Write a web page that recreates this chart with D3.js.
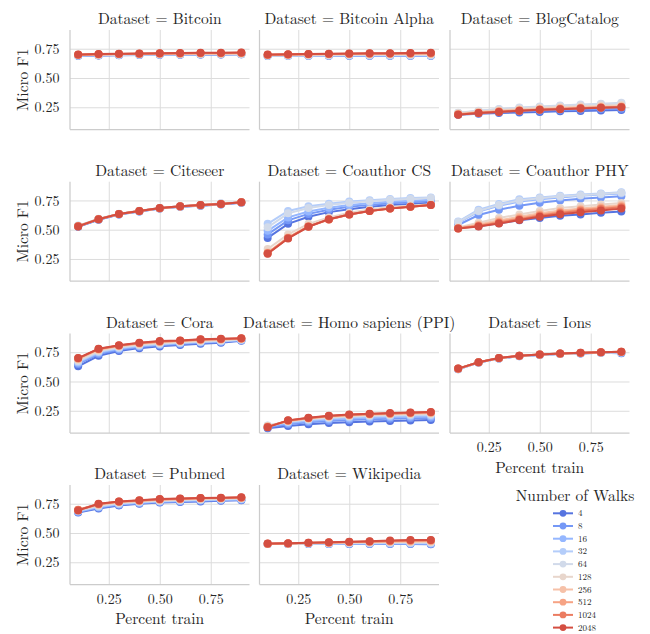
<!DOCTYPE html>
<html><head><meta charset="utf-8">
<script src="https://cdn.jsdelivr.net/npm/d3@7"></script>
<style>body{margin:0;background:#fff}svg{display:block}</style>
</head><body><svg id="c" width="650" height="634"></svg>
<script>
const percentTrain = [0.1,0.2,0.3,0.4,0.5,0.6,0.7,0.8,0.9];
const walks = [4,8,16,32,64,128,256,512,1024,2048];
const walkColors = ["#5674e0","#7598f6","#95b7ff","#b4cdfa","#d1daea","#e8d6cc","#f6c1a8","#f6a384","#eb7c61","#d44e41"];
const datasets = ["Bitcoin","Bitcoin Alpha","BlogCatalog","Citeseer","Coauthor CS","Coauthor PHY","Cora","Homo sapiens (PPI)","Ions","Pubmed","Wikipedia"];
const yTicks = [0.25,0.50,0.75];
const xTicks = [0.25,0.50,0.75];

const bitcoin = [
[.690,.693,.695,.697,.698,.699,.700,.701,.702],
[.691,.694,.696,.698,.699,.700,.701,.702,.703],
[.692,.695,.697,.699,.700,.701,.702,.703,.704],
[.693,.696,.698,.700,.701,.702,.703,.704,.705],
[.694,.697,.699,.701,.702,.703,.704,.705,.706],
[.696,.699,.702,.704,.705,.706,.707,.708,.709],
[.697,.701,.704,.706,.707,.708,.709,.710,.712],
[.698,.702,.705,.707,.709,.710,.711,.712,.714],
[.699,.703,.706,.708,.710,.711,.713,.714,.716],
[.700,.704,.708,.710,.712,.713,.715,.716,.718]];
const bitcoinAlpha = [
[.688,.689,.690,.690,.690,.690,.690,.690,.689],
[.689,.690,.691,.691,.691,.691,.691,.691,.690],
[.690,.691,.692,.692,.693,.693,.693,.693,.692],
[.691,.692,.693,.694,.694,.694,.694,.694,.694],
[.692,.693,.694,.695,.696,.696,.696,.696,.696],
[.694,.696,.698,.699,.701,.701,.702,.702,.703],
[.696,.698,.700,.702,.704,.704,.705,.705,.707],
[.697,.700,.702,.704,.706,.707,.708,.708,.710],
[.698,.701,.704,.706,.708,.709,.710,.711,.713],
[.700,.703,.706,.708,.710,.711,.712,.713,.715]];
const blogCatalog = [
[.185,.195,.200,.206,.210,.215,.219,.223,.227],
[.190,.202,.210,.217,.222,.227,.231,.235,.238],
[.195,.208,.218,.226,.233,.239,.244,.249,.253],
[.202,.218,.232,.243,.252,.261,.268,.275,.282],
[.203,.220,.235,.247,.257,.266,.274,.281,.288],
[.198,.213,.225,.236,.245,.252,.259,.265,.270],
[.193,.207,.218,.228,.236,.243,.249,.254,.259],
[.190,.203,.214,.223,.231,.238,.244,.249,.254],
[.188,.201,.211,.221,.229,.236,.242,.247,.252],
[.187,.200,.210,.220,.228,.234,.240,.245,.250]];
const citeseer = [
[.525,.585,.630,.655,.680,.695,.705,.715,.730],
[.527,.587,.632,.657,.682,.697,.707,.717,.732],
[.530,.590,.633,.658,.683,.698,.708,.720,.733],
[.533,.592,.635,.660,.685,.700,.710,.724,.735],
[.535,.593,.636,.661,.686,.701,.711,.725,.736],
[.532,.592,.635,.660,.685,.700,.710,.722,.735],
[.530,.591,.634,.659,.684,.699,.709,.720,.734],
[.529,.590,.634,.659,.684,.699,.709,.719,.734],
[.529,.590,.634,.659,.684,.700,.710,.719,.734],
[.528,.590,.635,.660,.685,.700,.711,.720,.735]];
const coauthorCS = [
[.430,.550,.610,.650,.675,.695,.710,.720,.730],
[.460,.580,.635,.670,.695,.712,.725,.735,.745],
[.490,.605,.655,.688,.710,.726,.738,.748,.756],
[.550,.660,.700,.722,.740,.752,.762,.770,.776],
[.520,.640,.685,.710,.730,.744,.755,.763,.770],
[.335,.460,.550,.605,.645,.672,.693,.705,.718],
[.305,.435,.530,.590,.632,.662,.684,.698,.712],
[.300,.430,.528,.588,.630,.660,.682,.696,.710],
[.298,.428,.527,.587,.630,.660,.682,.696,.710],
[.295,.425,.525,.590,.630,.660,.680,.695,.710]];
const coauthorPHY = [
[.520,.530,.555,.580,.600,.620,.630,.645,.655],
[.540,.625,.670,.705,.730,.750,.765,.775,.785],
[.560,.655,.705,.740,.760,.775,.790,.800,.810],
[.570,.670,.720,.760,.775,.790,.800,.810,.820],
[.565,.660,.712,.750,.768,.783,.795,.805,.815],
[.520,.560,.600,.630,.660,.685,.700,.715,.728],
[.515,.545,.580,.610,.640,.664,.682,.697,.712],
[.512,.537,.568,.598,.628,.652,.670,.686,.701],
[.510,.531,.560,.590,.620,.643,.661,.677,.691],
[.510,.527,.552,.582,.610,.632,.650,.665,.680]];
const cora = [
[.630,.720,.760,.785,.800,.812,.822,.832,.848],
[.650,.735,.772,.795,.810,.820,.830,.838,.852],
[.660,.745,.780,.802,.816,.826,.835,.842,.855],
[.668,.752,.786,.808,.821,.830,.839,.846,.857],
[.675,.758,.791,.812,.825,.834,.842,.849,.859],
[.685,.765,.798,.818,.832,.840,.848,.855,.862],
[.692,.772,.803,.823,.837,.845,.853,.859,.865],
[.696,.776,.806,.826,.840,.847,.856,.861,.867],
[.698,.778,.808,.828,.842,.849,.858,.863,.868],
[.700,.780,.810,.830,.845,.850,.860,.865,.870]];
const homoSapiens = [
[.100,.120,.135,.145,.152,.158,.163,.167,.170],
[.108,.135,.152,.163,.171,.177,.182,.186,.189],
[.115,.145,.163,.175,.184,.190,.195,.199,.202],
[.122,.153,.172,.185,.194,.200,.205,.209,.212],
[.125,.158,.178,.191,.200,.207,.212,.216,.219],
[.120,.160,.182,.196,.206,.213,.218,.222,.226],
[.115,.163,.185,.200,.210,.217,.222,.226,.231],
[.113,.165,.187,.203,.213,.220,.225,.230,.235],
[.112,.166,.188,.205,.215,.222,.227,.232,.237],
[.110,.168,.190,.207,.218,.225,.230,.235,.240]];
const ions = [
[.605,.662,.697,.716,.727,.735,.740,.745,.742],
[.606,.662,.697,.717,.728,.736,.741,.746,.745],
[.607,.663,.698,.717,.728,.736,.742,.747,.747],
[.607,.663,.698,.718,.729,.737,.742,.748,.748],
[.608,.664,.699,.718,.729,.737,.743,.748,.750],
[.608,.664,.699,.719,.730,.738,.743,.749,.752],
[.609,.664,.699,.719,.730,.738,.744,.749,.753],
[.609,.665,.700,.720,.730,.739,.744,.750,.754],
[.610,.665,.700,.720,.730,.739,.745,.750,.755],
[.610,.665,.700,.720,.730,.740,.745,.750,.755]];
const pubmed = [
[.675,.710,.735,.750,.760,.765,.770,.775,.780],
[.680,.716,.741,.755,.765,.770,.775,.780,.784],
[.684,.721,.745,.759,.768,.774,.779,.783,.787],
[.688,.726,.750,.763,.772,.778,.783,.787,.790],
[.692,.732,.755,.767,.776,.782,.787,.790,.794],
[.695,.738,.760,.771,.780,.786,.791,.794,.798],
[.696,.742,.764,.774,.783,.789,.794,.797,.800],
[.697,.745,.766,.776,.786,.791,.796,.799,.802],
[.698,.748,.768,.778,.788,.793,.798,.800,.804],
[.693,.750,.770,.780,.790,.795,.800,.802,.805]];
const wikipedia = [
[.405,.405,.405,.405,.405,.405,.405,.405,.403],
[.406,.406,.407,.407,.407,.408,.408,.408,.406],
[.406,.407,.408,.409,.410,.410,.411,.411,.410],
[.407,.408,.410,.411,.412,.413,.414,.415,.414],
[.407,.409,.411,.413,.415,.416,.418,.419,.418],
[.408,.410,.413,.415,.418,.420,.422,.424,.424],
[.408,.410,.414,.417,.420,.423,.426,.428,.429],
[.409,.411,.415,.418,.422,.426,.429,.432,.433],
[.409,.411,.416,.419,.424,.428,.432,.436,.437],
[.410,.412,.416,.420,.425,.430,.435,.440,.440]];
const seriesByDataset = [bitcoin,bitcoinAlpha,blogCatalog,citeseer,coauthorCS,coauthorPHY,cora,homoSapiens,ions,pubmed,wikipedia];

const FONT = '"Latin Modern Roman","Liberation Serif",serif';
const INK = "#262626";
const svg = d3.select("#c");
const colLeft = [70, 259.5, 450], panelW = 179.5;
const rowTop = [30, 181.7, 333.5, 485], panelH = 99.5;
const color = d3.scaleOrdinal().domain(walks).range(walkColors);
const showXFor = {8:true, 9:true, 10:true};

function label(sel, size) {
  return sel.style("font-family", FONT).style("font-size", size + "px").attr("fill", INK);
}

datasets.forEach((name, i) => {
  const col = i % 3, row = Math.floor(i / 3);
  const x0 = colLeft[col], y0 = rowTop[row];
  const x = d3.scaleLinear().domain([0.06, 0.94]).range([0, panelW]);
  const y = d3.scaleLinear().domain([0.06, 0.91]).range([panelH, 0]);
  const g = svg.append("g").attr("transform", `translate(${x0},${y0})`);
  const gy = g.append("g").call(d3.axisLeft(y).tickValues(yTicks).tickSize(-panelW).tickFormat(col === 0 ? d3.format(".2f") : ""));
  gy.select(".domain").remove();
  gy.selectAll(".tick line").attr("stroke", "#dcdcdc").attr("stroke-width", 1);
  label(gy.selectAll(".tick text").attr("x", -10.5).attr("dy", "0.33em"), 14);
  const showX = !!showXFor[i];
  const gx = g.append("g").attr("transform", `translate(0,${panelH})`).call(d3.axisBottom(x).tickValues(xTicks).tickSize(-panelH).tickFormat(showX ? d3.format(".2f") : ""));
  gx.select(".domain").remove();
  gx.selectAll(".tick line").attr("stroke", "#dcdcdc").attr("stroke-width", 1);
  label(gx.selectAll(".tick text").attr("y", 19).attr("dy", 0), 14);
  g.append("line").attr("x1", 0).attr("x2", 0).attr("y1", 0).attr("y2", panelH).attr("stroke", "#cccccc").attr("stroke-width", 1.25);
  g.append("line").attr("x1", 0).attr("x2", panelW).attr("y1", panelH).attr("y2", panelH).attr("stroke", "#cccccc").attr("stroke-width", 1.25);
  label(g.append("text").attr("x", panelW / 2).attr("y", -6).attr("text-anchor", "middle"), 15.5).text("Dataset = " + name);
  if (col === 0) {
    label(svg.append("text").attr("transform", `translate(28,${y0 + panelH / 2}) rotate(-90)`).attr("text-anchor", "middle"), 15.5).text("Micro F1");
  }
  if (showX) {
    label(g.append("text").attr("x", panelW / 2).attr("y", panelH + 39.5).attr("text-anchor", "middle"), 15.5).text("Percent train");
  }
  const line = d3.line().x((d, k) => x(percentTrain[k])).y(d => y(d));
  seriesByDataset[i].forEach((vals, w) => {
    const c = color(walks[w]);
    g.append("path").datum(vals).attr("d", line).attr("fill", "none").attr("stroke", c).attr("stroke-width", 2);
    g.append("g").selectAll("circle").data(vals).join("circle")
      .attr("cx", (d, k) => x(percentTrain[k])).attr("cy", d => y(d)).attr("r", 4).attr("fill", c);
  });
});

const lg = svg.append("g");
label(lg.append("text").attr("x", 575).attr("y", 501).attr("text-anchor", "middle"), 15.5).text("Number of Walks");
walks.forEach((w, k) => {
  const yy = 513.3 + k * 12.7;
  lg.append("line").attr("x1", 553).attr("x2", 573).attr("y1", yy).attr("y2", yy).attr("stroke", color(w)).attr("stroke-width", 2);
  lg.append("circle").attr("cx", 563).attr("cy", yy).attr("r", 3.4).attr("fill", color(w));
  label(lg.append("text").attr("x", 578).attr("y", yy + 3), 9).text(w);
});
</script></body></html>
